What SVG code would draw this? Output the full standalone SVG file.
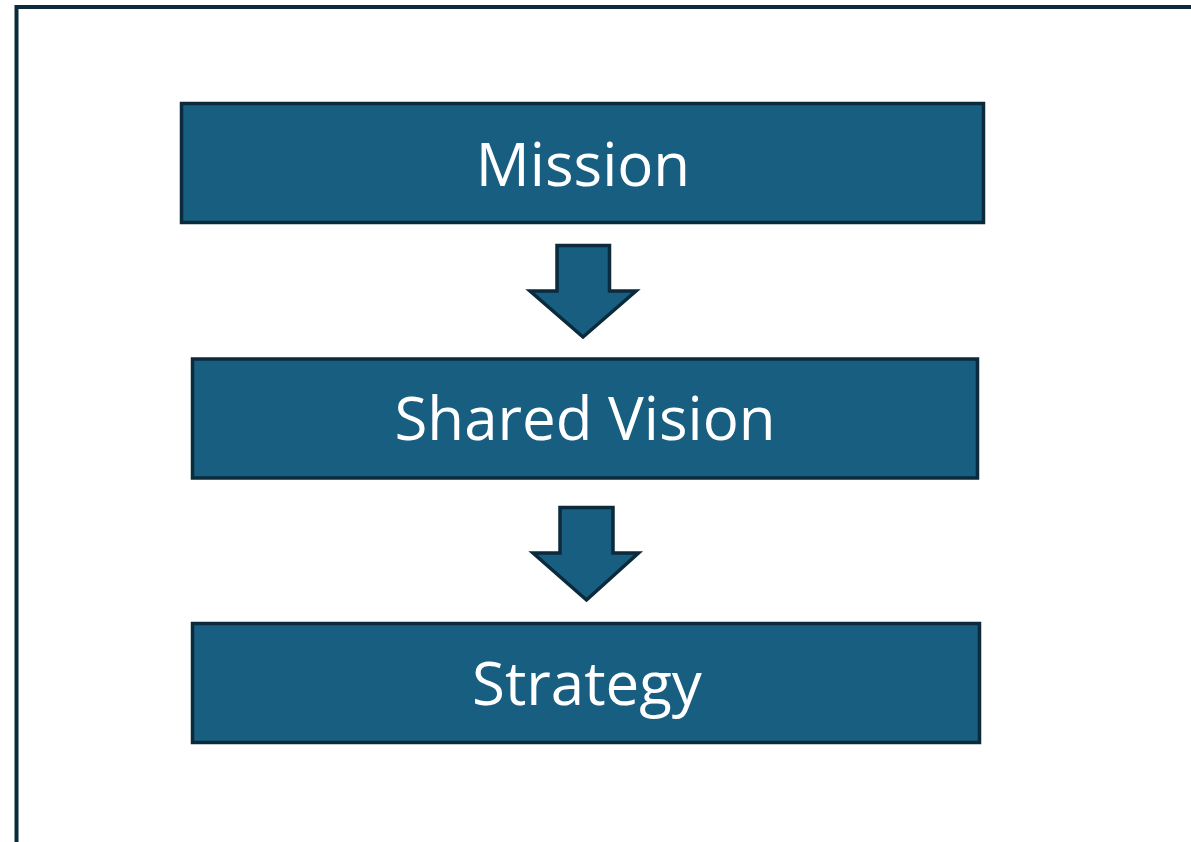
<svg xmlns="http://www.w3.org/2000/svg" width="1191" height="842" viewBox="0 0 1191 842">
<style>
.box{fill:#175E80;stroke:#0B2A3B;stroke-width:3.5}
.arr{fill:#175E80;stroke:#0B2A3B;stroke-width:3.5;stroke-linejoin:miter}
.lbl{fill:#FFFFFF;font-family:"Open Sans","Noto Sans",sans-serif;font-size:60px;text-anchor:middle}
</style>
<rect width="1191" height="842" fill="#FFFFFF"/>
<path d="M16.5 842 V7 H1191" fill="none" stroke="#0B2A3B" stroke-width="4"/>
<g id="mission">
<rect class="box" x="181.5" y="103.5" width="802" height="119"/>
<text class="lbl" x="583" y="186">Mission</text>
</g>
<g id="shared-vision">
<rect class="box" x="192.5" y="359" width="785" height="119"/>
<text class="lbl" x="585" y="440">Shared Vision</text>
</g>
<g id="strategy">
<rect class="box" x="192.5" y="623.5" width="787" height="119"/>
<text class="lbl" x="587" y="705">Strategy</text>
</g>
<g id="connectors">
<polygon class="arr" points="557,245.5 609.5,245.5 609.5,291 636,291 583,337 530,291 557,291"/>
<polygon class="arr" points="560,507.5 613,507.5 613,553 638.5,553 586.5,600 533,553 560,553"/>
</g>
</svg>
